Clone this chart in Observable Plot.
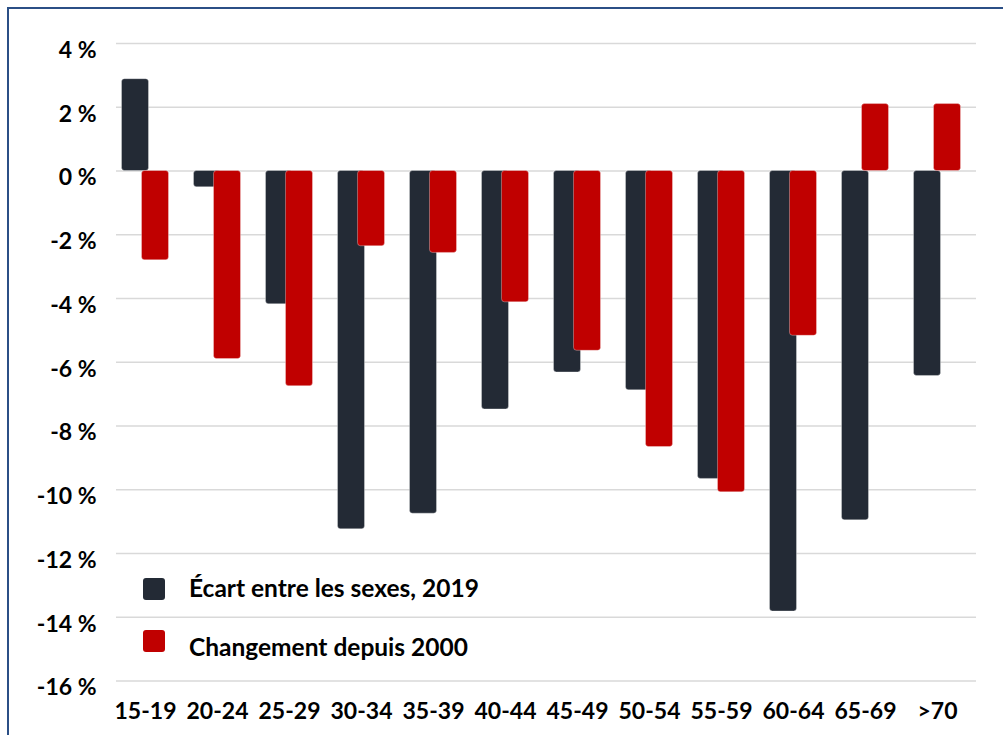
<!DOCTYPE html>
<html>
<head>
<meta charset="utf-8">
<script src="https://cdn.jsdelivr.net/npm/d3@7"></script>
<script src="https://cdn.jsdelivr.net/npm/@observablehq/plot@0.6"></script>
<style>
  html, body { margin: 0; padding: 0; background: #fff; overflow: hidden; }
  #wrap { position: relative; width: 1003px; height: 735px; font-family: Lato, "Open Sans", sans-serif; }
  #chart { position: absolute; left: 0; top: 0; }
  #border { position: absolute; left: 7px; top: 7px; width: 1010px; height: 760px; border: 2px solid #2b4f86; box-sizing: border-box; pointer-events: none; }
  .leg { position: absolute; left: 143px; display: flex; align-items: center; font-weight: 700; font-size: 24.5px; color: #000; white-space: nowrap; }
  .sw { width: 22px; height: 22px; border-radius: 3px; margin-right: 24px; }
</style>
</head>
<body>
<div id="wrap">
  <div id="chart"></div>
  <div id="border"></div>
  <div id="legend"></div>
</div>
<script>
const ages = ["15-19","20-24","25-29","30-34","35-39","40-44","45-49","50-54","55-59","60-64","65-69",">70"];
const gap2019 = [2.88, -0.51, -4.18, -11.24, -10.75, -7.48, -6.32, -6.88, -9.66, -13.82, -10.96, -6.43];
const change2000 = [-2.8, -5.9, -6.75, -2.36, -2.57, -4.12, -5.64, -8.66, -10.08, -5.17, 2.1, 2.1];
const seriesNames = ["Écart entre les sexes, 2019", "Changement depuis 2000"];
const seriesColors = ["#232a35", "#c00000"];
const yTicks = [4, 2, 0, -2, -4, -6, -8, -10, -12, -14, -16];

const dataGap = ages.map((a, i) => ({age: a, value: gap2019[i]}));
const dataChange = ages.map((a, i) => ({age: a, value: change2000[i]}));

const chart = Plot.plot({
  width: 1003,
  height: 735,
  marginLeft: 106,
  marginRight: 27,
  marginTop: 43,
  marginBottom: 54.5,
  style: {fontFamily: "Lato, 'Open Sans', sans-serif", fontWeight: 700, fontSize: "23px", color: "#000", background: "transparent"},
  x: {domain: ages, padding: 0, label: null},
  y: {domain: [-16, 4], label: null},
  marks: [
    Plot.ruleY(yTicks, {y: d => d, stroke: "#d9d9d9", strokeWidth: 1.5, insetLeft: 10}),
    Plot.axisY({ticks: yTicks, tickSize: 0, tickPadding: 10, dy: 7, tickFormat: d => `${d} %`, fill: "#000", fontSize: 23, fontWeight: 700}),
    Plot.axisX({tickSize: 0, tickPadding: 22, fill: "#000", fontSize: 23, fontWeight: 700}),
    Plot.barY(dataGap, {x: "age", y: "value", fill: seriesColors[0], dx: -10, insetLeft: 22.5, insetRight: 22.5, rx: 3, stroke: "#ffffff", strokeOpacity: 0.4, strokeWidth: 0.8}),
    Plot.barY(dataChange, {x: "age", y: "value", fill: seriesColors[1], dx: 10, insetLeft: 22.5, insetRight: 22.5, rx: 3, stroke: "#ffffff", strokeOpacity: 0.4, strokeWidth: 0.8})
  ]
});
document.getElementById("chart").appendChild(chart);

const legend = document.getElementById("legend");
const legTops = [578, 630];
seriesNames.forEach((name, i) => {
  const row = document.createElement("div");
  row.className = "leg";
  row.style.top = legTops[i] + "px";
  row.style.height = "22px";
  const sw = document.createElement("div");
  sw.className = "sw";
  sw.style.background = seriesColors[i];
  const t = document.createElement("span");
  t.textContent = name;
  t.style.position = "relative";
  t.style.top = (i === 0 ? "-2px" : "5px");
  row.appendChild(sw);
  row.appendChild(t);
  legend.appendChild(row);
});
</script>
</body>
</html>
